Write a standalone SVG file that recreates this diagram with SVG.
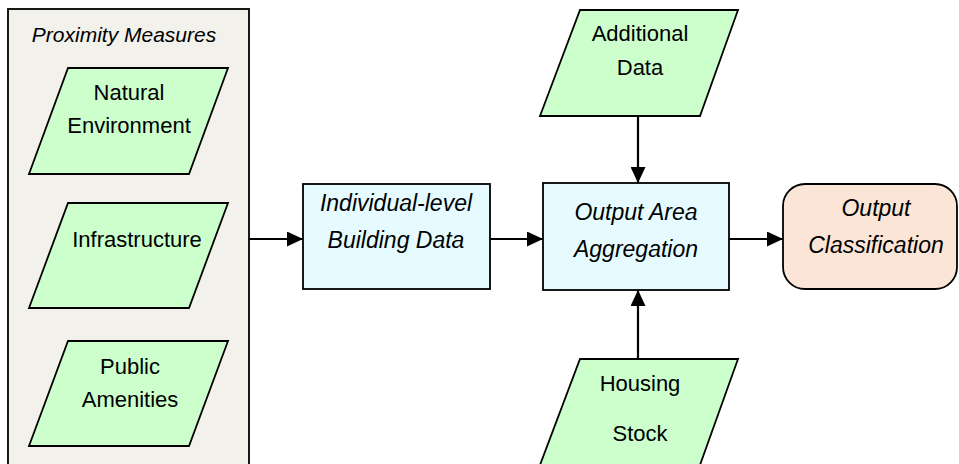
<svg xmlns="http://www.w3.org/2000/svg" width="959" height="464" viewBox="0 0 959 464">
<style>
.data{fill:#ccffcc;stroke:#000;stroke-width:1.8}
.proc{fill:#e5fbff;stroke:#000;stroke-width:1.8}
.out{fill:#fbe5d6;stroke:#000;stroke-width:1.8}
.cont{fill:#f2f1eb;stroke:#000;stroke-width:1.8}
text{font-family:"Liberation Sans",Arial,sans-serif;fill:#000;text-anchor:middle}
.t{font-size:22px}
.ti{font-size:23px;font-style:italic}
.tt{font-size:21px;font-style:italic}
.conn{stroke:#000;stroke-width:2.2;fill:none;marker-end:url(#ah)}
</style>
<defs>
<marker id="ah" markerWidth="16" markerHeight="15" refX="16" refY="7.5" orient="auto" markerUnits="userSpaceOnUse">
<path d="M0,0 L16,7.5 L0,15 Z" fill="#000"/>
</marker>
</defs>
<rect width="959" height="464" fill="#fff"/>
<g id="proximity-measures">
<rect class="cont" x="8" y="9" width="241" height="470"/>
<text class="tt" x="124" y="42">Proximity Measures</text>
</g>
<g id="natural-environment">
<polygon class="data" points="68,68 228,68 189,174 29,174"/>
<text class="t" x="129" y="100">Natural</text>
<text class="t" x="129" y="133">Environment</text>
</g>
<g id="infrastructure">
<polygon class="data" points="68,203 228,203 189,308 29,308"/>
<text class="t" x="137" y="247">Infrastructure</text>
</g>
<g id="public-amenities">
<polygon class="data" points="68,341 228,341 189,446 29,446"/>
<text class="t" x="130" y="374">Public</text>
<text class="t" x="130" y="407">Amenities</text>
</g>
<g id="individual-building-data">
<rect class="proc" x="303" y="184" width="187" height="105"/>
<text class="ti" x="396" y="211">Individual-level</text>
<text class="ti" x="396" y="248">Building Data</text>
</g>
<g id="output-area-aggregation">
<rect class="proc" x="543" y="183" width="186" height="107"/>
<text class="ti" x="636" y="220">Output Area</text>
<text class="ti" x="636" y="257">Aggregation</text>
</g>
<g id="additional-data">
<polygon class="data" points="580,10 738,10 700,116 540,116"/>
<text class="t" x="640" y="41">Additional</text>
<text class="t" x="640" y="75">Data</text>
</g>
<g id="housing-stock">
<polygon class="data" points="580,359 738,359 700,465 540,465"/>
<text class="t" x="640" y="391">Housing</text>
<text class="t" x="640" y="441">Stock</text>
</g>
<g id="output-classification">
<rect class="out" x="783" y="184" width="174" height="105" rx="22" ry="22"/>
<text class="ti" x="876" y="216">Output</text>
<text class="ti" x="876" y="253">Classification</text>
</g>
<g id="connectors">
<line class="conn" x1="249" y1="239" x2="303" y2="239"/>
<line class="conn" x1="490" y1="239" x2="543" y2="239"/>
<line class="conn" x1="638" y1="116" x2="638" y2="183"/>
<line class="conn" x1="638" y1="359" x2="638" y2="290"/>
<line class="conn" x1="729" y1="239" x2="783" y2="239"/>
</g>
</svg>
